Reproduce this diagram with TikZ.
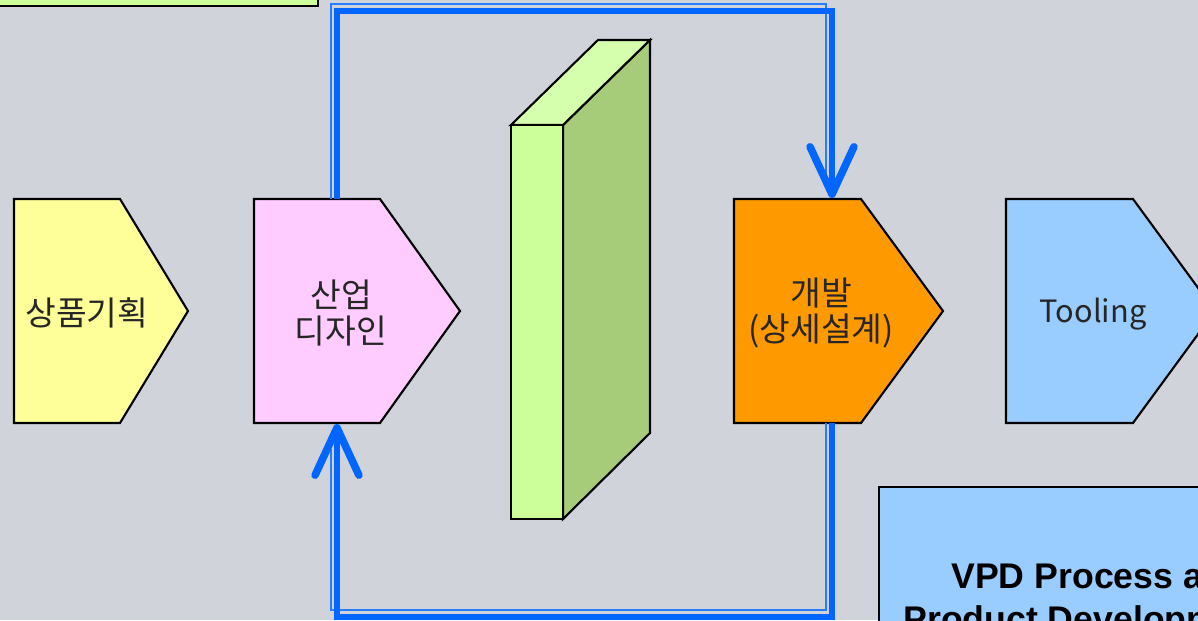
\documentclass[tikz,border=0pt]{standalone}
\usepackage{fontspec}
\usepackage{tikz}
\usetikzlibrary{arrows.meta,positioning,calc}
\newfontfamily\krfont{Noto Sans CJK KR}
\setsansfont{Liberation Sans}

\definecolor{bggray}{RGB}{208,211,218}
\definecolor{loopblue}{RGB}{0,102,255}
\definecolor{planyellow}{RGB}{255,255,153}
\definecolor{designpink}{RGB}{255,204,255}
\definecolor{devorange}{RGB}{255,153,0}
\definecolor{toolblue}{RGB}{153,204,255}
\definecolor{boxgreen}{RGB}{204,255,153}
\definecolor{boxtop}{RGB}{214,255,173}
\definecolor{boxside}{RGB}{166,204,122}

\begin{document}
\begin{tikzpicture}[x=0.02cm, y=-0.02cm,
    stage/.style={draw=black, line width=1.2pt, line join=miter},
    stagetext/.style={font=\krfont\fontsize{19}{21}\selectfont, text=black!85,
      align=center, inner sep=0pt},
    vpdtext/.style={font=\sffamily\bfseries\fontsize{20.3}{24}\selectfont,
      inner sep=0pt},
    loopthick/.style={loopblue, line width=3.2pt,
      -{Straight Barb[length=27pt, width=25pt, line width=4.3pt, round]}},
    loopthin/.style={loopblue!85!white, line width=1.1pt}]

  % Page frame
  \useasboundingbox (0,0) rectangle (1198,620);
  \clip (0,0) rectangle (1198,620);
  \fill[bggray] (0,0) rectangle (1198,620);

  % Box cut off at the top left
  \filldraw[fill=boxgreen, line width=1.3pt] (-20,-40) rectangle (318,6);

  % Stage arrows (left x, flat right x, tip x, colour)
  \foreach \xl/\xr/\xt/\col in {14/120/188/planyellow, 254/380/460/designpink,
      734/861/943/devorange, 1006/1133/1215/toolblue} {
    \filldraw[stage, fill=\col]
      (\xl,199) -- (\xr,199) -- (\xt,311) -- (\xr,423) -- (\xl,423) -- cycle;
  }

  % Stage labels
  \node[stagetext] (plantext) at (87,313) {상품기획};
  \node[stagetext] (designtext) at (341,313) {산업\\디자인};
  \node[stagetext] (devtext) at (821,313) {개발\\(상세설계)};
  \node[stagetext, font=\krfont\fontsize{17.5}{21}\selectfont] (tooltext)
    at (1093,314) {Tooling};

  % Wall block between design and development
  \filldraw[fill=boxside, line width=1.2pt, line join=miter]
    (563,125) -- (650,40) -- (650,433) -- (563,519) -- cycle;
  \filldraw[fill=boxtop, line width=1.2pt, line join=miter]
    (511,125) -- (598,40) -- (650,40) -- (563,125) -- cycle;
  \filldraw[fill=boxgreen, line width=1.2pt] (511,125) rectangle (563,519);

  % Title box at the bottom right
  \filldraw[fill=toolblue, line width=1.1pt] (879,487) rectangle (1260,700);
  \node[vpdtext, anchor=base west] (vpdA) at (951,588) {VPD Process and};
  \node[vpdtext, anchor=base west] (vpdB) at (903,631) {Product Development};

  % Connector ends
  \coordinate (dtop) at (337,199);
  \coordinate (dbot) at (337,424);
  \coordinate (otop) at (832,198);
  \coordinate (obot) at (832,423);

  % Feedback loop: thin lines
  \draw[loopthin] ($(dtop)+(-6,0)$) -- ++(0,-195) -| ($(otop)+(-6,-24)$);
  \draw[loopthin] ($(obot)+(-6,0)$) -- ++(0,187) -| ($(dbot)+(-6,25)$);

  % Feedback loop: thick lines
  \draw[loopthick] (dtop) -- ++(0,-188) -| (otop);
  \draw[loopthick] (obot) -- ++(0,194) -| (dbot);

\end{tikzpicture}
\end{document}
